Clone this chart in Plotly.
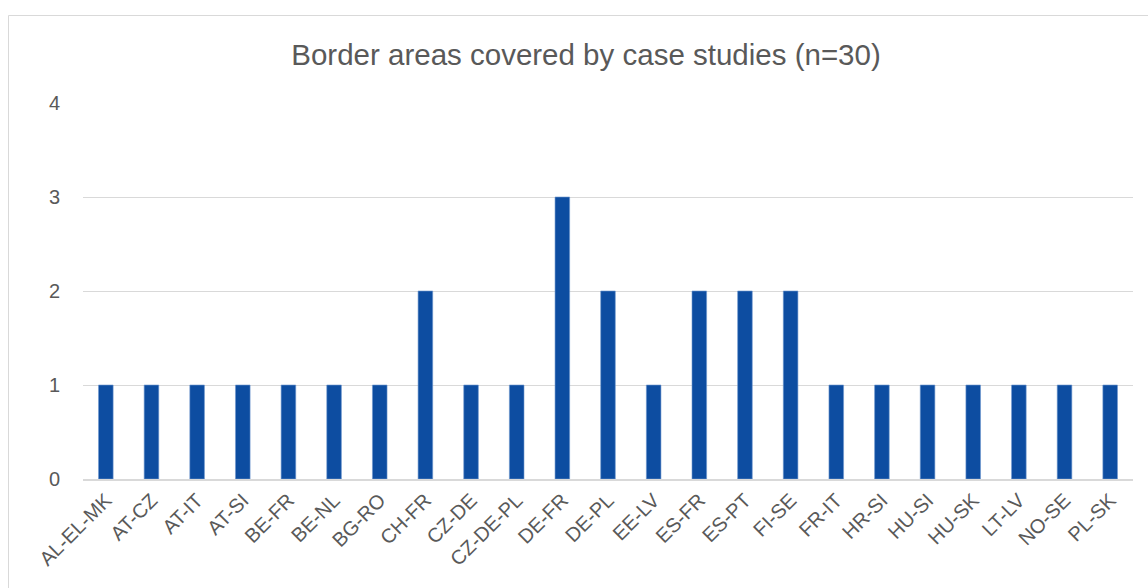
import plotly.graph_objects as go

categories = ["AL-EL-MK", "AT-CZ", "AT-IT", "AT-SI", "BE-FR", "BE-NL", "BG-RO", "CH-FR",
              "CZ-DE", "CZ-DE-PL", "DE-FR", "DE-PL", "EE-LV", "ES-FR", "ES-PT", "FI-SE",
              "FR-IT", "HR-SI", "HU-SI", "HU-SK", "LT-LV", "NO-SE", "PL-SK"]
counts = [1, 1, 1, 1, 1, 1, 1, 2, 1, 1, 3, 2, 1, 2, 2, 2, 1, 1, 1, 1, 1, 1, 1]
y_ticks = [0, 1, 2, 3, 4]
title_text = "Border areas covered by case studies (n=30)"

fig = go.Figure()
fig.add_trace(go.Bar(
    x=categories, y=counts,
    marker=dict(color="#0D4DA1", line=dict(color="#6F97CF", width=0.6)),
    hoverinfo="x+y",
))

fig.update_layout(
    width=1148, height=588,
    margin=dict(l=83, r=15, t=103, b=109),
    paper_bgcolor="white", plot_bgcolor="white",
    bargap=0.68,
    showlegend=False,
    font=dict(family="Liberation Sans, Arial, sans-serif", color="#595959", size=20),
    title=dict(text=title_text, x=586 / 1148, xanchor="center", y=1 - 55 / 588, yanchor="middle",
               yref="container", font=dict(size=29.5, color="#595959")),
    xaxis=dict(
        type="category", tickangle=-45, showgrid=False, showline=True,
        linecolor="#D9D9D9", linewidth=1.5, ticks="", tickfont=dict(size=20, color="#595959"),
    ),
    yaxis=dict(
        range=[0, 4], tickvals=y_ticks, showgrid=True, gridcolor="#D9D9D9", gridwidth=1.3,
        zeroline=False, showline=False, ticks="", ticklabelstandoff=22,
        tickfont=dict(size=20, color="#595959"),
    ),
    shapes=[dict(type="rect", xref="paper", yref="paper",
                 x0=(8.5 - 83) / 1050, x1=(1160 - 83) / 1050,
                 y0=(479 - 600) / 376, y1=(479 - 15.5) / 376,
                 line=dict(color="#D9D9D9", width=1), fillcolor="rgba(0,0,0,0)", layer="below")],
)

fig.write_html("out.html")
